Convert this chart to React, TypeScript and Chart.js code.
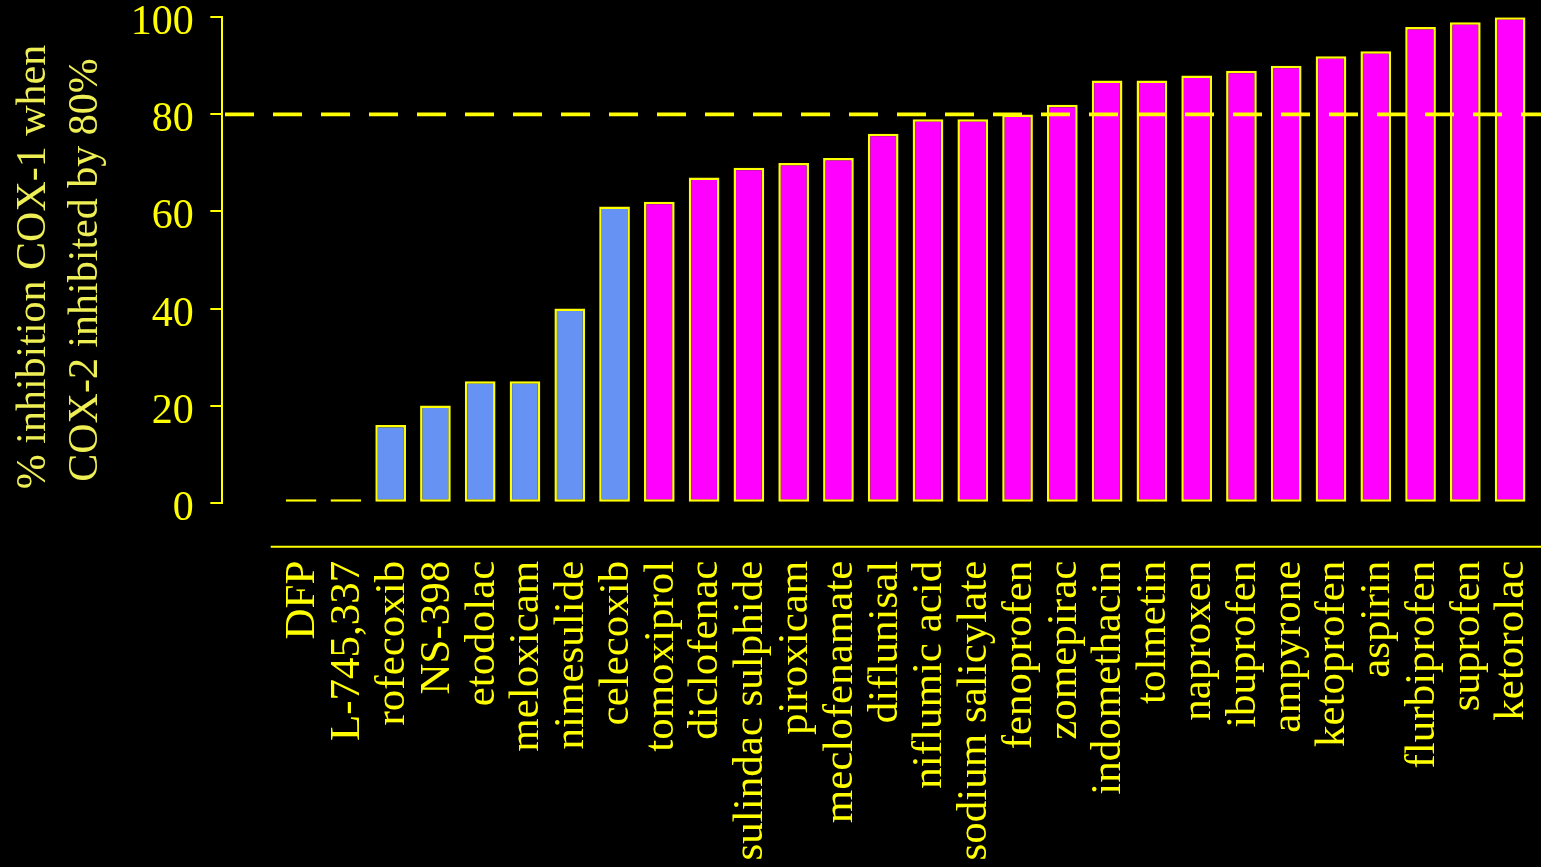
import { useEffect, useRef } from 'react';
import { Chart, registerables } from 'chart.js';

Chart.register(...registerables);

const categories = [
  'DFP', 'L-745,337', 'rofecoxib', 'NS-398', 'etodolac', 'meloxicam', 'nimesulide', 'celecoxib',
  'tomoxiprol', 'diclofenac', 'sulindac sulphide', 'piroxicam', 'meclofenamate', 'diflunisal',
  'niflumic acid', 'sodium salicylate', 'fenoprofen', 'zomepirac', 'indomethacin', 'tolmetin',
  'naproxen', 'ibuprofen', 'ampyrone', 'ketoprofen', 'aspirin', 'flurbiprofen', 'suprofen', 'ketorolac',
];

const values = [
  0.7, 0.7, 16, 20, 25, 25, 40, 61,
  62, 67, 69, 70, 71, 76,
  79, 79, 80, 82, 87, 87,
  88, 89, 90, 92, 93, 98, 99, 100,
];

const groups = [
  'cox2', 'cox2', 'cox2', 'cox2', 'cox2', 'cox2', 'cox2', 'cox2',
  'mixed', 'mixed', 'mixed', 'mixed', 'mixed', 'mixed',
  'mixed', 'mixed', 'mixed', 'mixed', 'mixed', 'mixed',
  'mixed', 'mixed', 'mixed', 'mixed', 'mixed', 'mixed', 'mixed', 'mixed',
];

const yTickValues = [0, 20, 40, 60, 80, 100];
const threshold = 80;
const yTitleLines = ['% inhibition COX-1 when', 'COX-2 inhibited by 80%'];

const YELLOW = '#ffff00';
const TITLE_YELLOW = '#eeee55';
const groupColors: Record<string, string> = { cox2: '#6592F3', mixed: '#ff00ff' };
const FONT = '"Liberation Serif", "Times New Roman", serif';

const W = 1541;
const H = 867;
const AREA_RIGHT = 1532.5;
const AREA_LEFT = 278.7;
const AREA_TOP = 17.3;
const AREA_BOTTOM = 502.7;
const Y_AXIS_X = 222.3;

const layoutPlugin = {
  id: 'shiftYAxis',
  afterLayout(chart: any) {
    const y = chart.scales.y;
    const dx = y.right - Y_AXIS_X;
    y.left -= dx;
    y.right -= dx;
  },
};

const decorPlugin = {
  id: 'decor',
  afterDatasetsDraw(chart: any) {
    const { ctx } = chart;
    const y = chart.scales.y;
    const ty = y.getPixelForValue(threshold);
    ctx.save();
    ctx.strokeStyle = YELLOW;
    ctx.lineWidth = 3.6;
    ctx.setLineDash([29, 19]);
    ctx.beginPath();
    ctx.moveTo(y.right + 2.7, ty);
    ctx.lineTo(chart.width, ty);
    ctx.stroke();
    ctx.restore();
  },
  afterDraw(chart: any) {
    const { ctx } = chart;
    const y = chart.scales.y;
    const x = chart.scales.x;
    const ay = y.getPixelForValue(0) + 44;
    ctx.save();
    ctx.strokeStyle = YELLOW;
    ctx.lineWidth = 2;
    ctx.beginPath();
    ctx.moveTo(x.left - 8, ay);
    ctx.lineTo(chart.width, ay);
    ctx.stroke();
    ctx.restore();
    ctx.save();
    ctx.fillStyle = TITLE_YELLOW;
    ctx.font = `42px ${FONT}`;
    ctx.textAlign = 'center';
    ctx.textBaseline = 'alphabetic';
    const pos = [[45, 267], [97, 270]];
    yTitleLines.forEach((line, i) => {
      ctx.save();
      ctx.translate(pos[i][0], pos[i][1]);
      ctx.rotate(-Math.PI / 2);
      ctx.fillText(line, 0, 0);
      ctx.restore();
    });
    ctx.restore();
  },
};

export default function App() {
  const ref = useRef<HTMLCanvasElement | null>(null);

  useEffect(() => {
    document.body.style.margin = '0';
    document.body.style.background = '#000';
    const canvas = ref.current;
    if (!canvas) return;
    const chart = new Chart(canvas, {
      type: 'bar',
      data: {
        labels: categories,
        datasets: [
          {
            data: values,
            backgroundColor: groups.map((g) => groupColors[g]),
            borderColor: YELLOW,
            borderWidth: 2.5,
            borderSkipped: false,
            barPercentage: 0.685,
            categoryPercentage: 1,
          },
        ],
      },
      options: {
        responsive: false,
        animation: false,
        devicePixelRatio: 1,
        layout: {
          padding: { left: 0, right: W - AREA_RIGHT, top: AREA_TOP, bottom: 0 },
        },
        plugins: {
          legend: { display: false },
          tooltip: { enabled: false },
          title: { display: false },
        },
        scales: {
          x: {
            type: 'category',
            grid: { display: false, drawTicks: false },
            border: { display: false },
            ticks: {
              autoSkip: false,
              maxRotation: 90,
              minRotation: 90,
              padding: 58,
              labelOffset: 2,
              color: YELLOW,
              font: { family: FONT, size: 43 },
            },
            afterFit: (scale: any) => {
              scale.height = H - AREA_BOTTOM;
              scale.paddingLeft = 0;
              scale.paddingRight = 0;
            },
          },
          y: {
            type: 'linear',
            min: 0,
            max: 100,
            afterBuildTicks: (scale: any) => {
              scale.ticks = yTickValues.map((v) => ({ value: v }));
            },
            grid: {
              display: true,
              drawOnChartArea: false,
              drawTicks: true,
              tickLength: 12,
              color: YELLOW,
              lineWidth: 2,
            },
            border: { display: true, color: YELLOW, width: 2 },
            ticks: {
              padding: 16.5,
              labelOffset: 6,
              color: YELLOW,
              font: { family: FONT, size: 42 },
            },
            afterFit: (scale: any) => {
              scale.width = AREA_LEFT;
              scale.paddingTop = 0;
              scale.paddingBottom = 0;
            },
          },
        },
      },
      plugins: [layoutPlugin, decorPlugin],
    });
    return () => chart.destroy();
  }, []);

  return (
    <canvas
      ref={ref}
      width={W}
      height={H}
      style={{ display: 'block', width: W, height: H, background: '#000' }}
    />
  );
}
